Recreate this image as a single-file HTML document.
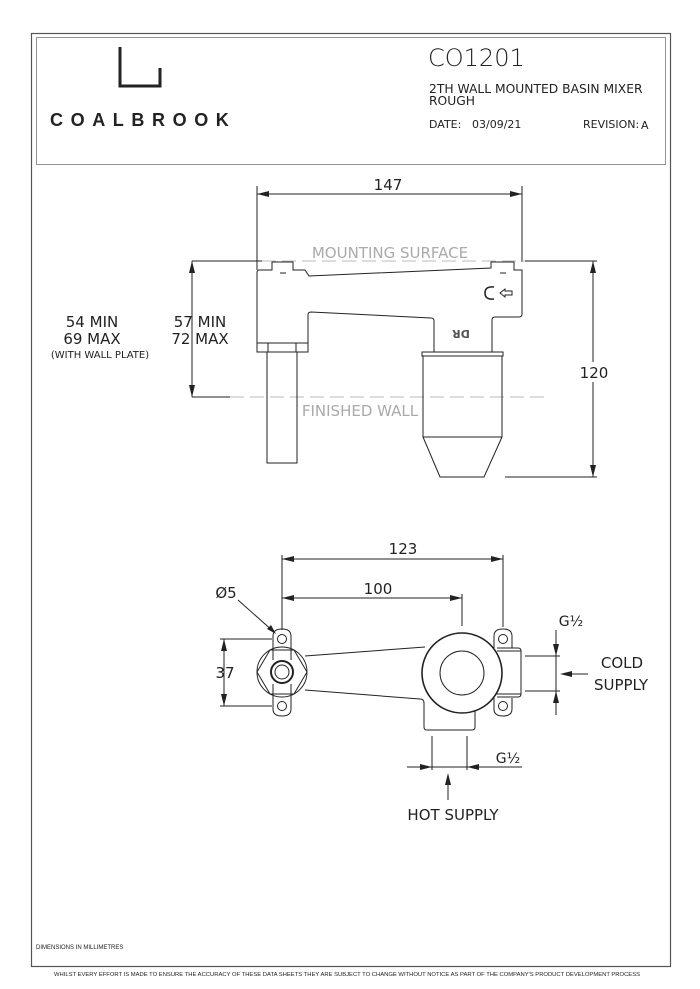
<!DOCTYPE html>
<html><head><meta charset="utf-8"><style>
html,body{margin:0;padding:0;background:#fff}
svg{display:block}
text{font-family:"DejaVu Sans","Liberation Sans",sans-serif;fill:#222}
</style></head><body>
<svg width="700" height="989" viewBox="0 0 700 989" xmlns="http://www.w3.org/2000/svg">
<rect x="31.5" y="33.5" width="639" height="933" fill="none" stroke="#555" stroke-width="1.2"/>
<rect x="36.5" y="37.5" width="629" height="127" fill="none" stroke="#777" stroke-width="0.8"/>
<!-- logo -->
<path d="M120 47 V86 H160 V68" fill="none" stroke="#222" stroke-width="3"/>
<text x="50" y="126" font-size="18" font-weight="bold" letter-spacing="7.6" style="font-family:'Liberation Sans'">COALBROOK</text>
<text x="428" y="66" font-size="24" font-weight="300">CO1201</text>
<text x="429" y="93" font-size="12.3">2TH WALL MOUNTED BASIN MIXER</text>
<text x="429" y="105" font-size="12.3">ROUGH</text>
<text x="429" y="128" font-size="11">DATE:</text>
<text x="472" y="128" font-size="11" fill="#444">03/09/21</text>
<text x="583" y="128" font-size="11">REVISION:</text>
<text x="641" y="129" font-size="11" fill="#444">A</text>

<g fill="none" stroke="#222" stroke-width="1">
<line x1="257" y1="186" x2="257" y2="270"/>
<line x1="522" y1="186" x2="522" y2="262"/>
<line x1="257" y1="194" x2="522" y2="194"/>
<line x1="192" y1="261" x2="262" y2="261"/>
<line x1="525" y1="261" x2="597" y2="261"/>
<line x1="262" y1="261" x2="525" y2="261" stroke="#bbb" stroke-dasharray="14,6"/>
<line x1="192" y1="397" x2="230" y2="397"/>
<line x1="230" y1="397" x2="545" y2="397" stroke="#bbb" stroke-dasharray="14,6"/>
<line x1="192" y1="261" x2="192" y2="397"/>
<line x1="593" y1="261" x2="593" y2="477"/>
<line x1="505" y1="477" x2="597" y2="477"/>
<path d="M259 270 H272 V262 H293 V270 H305 L309 276 L491 268 V262 H514 V270 H522 V314 Q522 317 519 317 H495 Q492 317 492 320 V352 H434 V321 Q434 318 431 318 L311 312 Q308 312 308 315 V343 H257 V273 Q257 270 259 270 Z"/>
<line x1="280" y1="273" x2="286" y2="273"/>
<line x1="500" y1="273" x2="506" y2="273"/>
<rect x="257" y="343" width="51" height="9"/>
<line x1="268" y1="343" x2="268" y2="352"/><line x1="296" y1="343" x2="296" y2="352"/>
<rect x="267" y="352" width="30" height="111"/>
<rect x="422" y="352" width="81" height="4"/>
<path d="M423 356 V437 L440 477 H484 L502 437 V356"/>
<line x1="423" y1="437" x2="502" y2="437"/>
<path d="M494 287 Q485 286 485 293 Q485 300 494 299" stroke-width="1.6"/>
<path d="M500 293 L505 289 V291 H512 V295 H505 V297 Z"/>
</g>
<g fill="#222">
<path d="M257 194 l12 -3 v6z"/><path d="M522 194 l-12 -3 v6z"/>
<path d="M192 261 l-3 12 h6z"/><path d="M192 397 l-3 -12 h6z"/>
<path d="M593 261 l-3 12 h6z"/><path d="M593 477 l-3 -12 h6z"/>
</g>
<text x="388" y="190" font-size="15" text-anchor="middle">147</text>
<text x="390" y="258" font-size="15" text-anchor="middle" style="fill:#aaa">MOUNTING SURFACE</text>
<text x="360" y="416" font-size="15" text-anchor="middle" style="fill:#aaa">FINISHED WALL</text>
<text x="461" y="330" font-size="11" font-weight="bold" text-anchor="middle" transform="rotate(180 461 330)" style="fill:#555">DR</text>
<text x="200" y="327" font-size="15" text-anchor="middle">57 MIN</text>
<text x="200" y="344" font-size="15" text-anchor="middle">72 MAX</text>
<text x="92" y="327" font-size="15" text-anchor="middle">54 MIN</text>
<text x="92" y="344" font-size="15" text-anchor="middle">69 MAX</text>
<text x="100" y="358" font-size="10" text-anchor="middle">(WITH WALL PLATE)</text>
<rect x="578" y="362" width="30" height="20" fill="#fff"/>
<text x="594" y="378" font-size="15" text-anchor="middle">120</text>

<g fill="none" stroke="#222" stroke-width="1">
<line x1="282" y1="555" x2="282" y2="630"/>
<line x1="503" y1="555" x2="503" y2="627"/>
<line x1="462" y1="594" x2="462" y2="626"/>
<line x1="282" y1="559" x2="503" y2="559"/>
<line x1="282" y1="598" x2="462" y2="598"/>
<line x1="220" y1="639" x2="272" y2="639"/>
<line x1="220" y1="706" x2="272" y2="706"/>
<line x1="224" y1="639" x2="224" y2="706"/>
<line x1="238" y1="600" x2="274" y2="632"/>
<path d="M273 660 V636 Q273 629 282 629 Q291 629 291 636 V660"/>
<path d="M273 684 V709 Q273 716 282 716 Q291 716 291 709 V684"/>
<circle cx="282" cy="639" r="4.5"/><circle cx="282" cy="706" r="4.5"/>
<path d="M257 672 L270 650 H294 L307 672 L294 694 H270 Z"/>
<circle cx="282" cy="672" r="25"/>
<circle cx="282" cy="672" r="11" stroke-width="2"/><circle cx="282" cy="672" r="7"/>
<path d="M305 656 L425 647"/>
<path d="M305 690 L420 699 Q424 699 424 703 V727 Q424 730 427 730 H472 Q475 730 475 727 V711"/>
<circle cx="462" cy="673" r="40" stroke-width="1.6"/>
<circle cx="462" cy="673" r="22"/>
<path d="M494 648 V636 Q494 629 503 629 Q512 629 512 636 V648"/>
<path d="M494 698 V709 Q494 716 503 716 Q512 716 512 709 V698"/>
<circle cx="503" cy="639" r="4.5"/><circle cx="503" cy="706" r="4.5"/>
<path d="M497 648 H518 Q521 648 521 651 V694 Q521 697 518 697 H497"/>
<line x1="497" y1="651" x2="521" y2="651"/><line x1="497" y1="694" x2="521" y2="694"/>
<line x1="525" y1="656" x2="560" y2="656"/>
<line x1="525" y1="691" x2="560" y2="691"/>
<line x1="556" y1="630" x2="556" y2="715"/>
<line x1="562" y1="674" x2="588" y2="674"/>
<line x1="432" y1="736" x2="432" y2="770"/>
<line x1="467" y1="736" x2="467" y2="770"/>
<line x1="407" y1="767" x2="522" y2="767"/>
<line x1="448" y1="776" x2="448" y2="800"/>
</g>
<g fill="#222">
<path d="M282 559 l12 -3 v6z"/><path d="M503 559 l-12 -3 v6z"/>
<path d="M282 598 l12 -3 v6z"/><path d="M462 598 l-12 -3 v6z"/>
<path d="M224 639 l-3 12 h6z"/><path d="M224 706 l-3 -12 h6z"/>
<path d="M276 634 l-9 -5 l4 -4z"/>
<path d="M556 656 l-3 -12 h6z"/><path d="M556 691 l-3 12 h6z"/>
<path d="M560 674 l12 -3 v6z"/>
<path d="M432 767 l-12 -3 v6z"/><path d="M467 767 l12 -3 v6z"/>
<path d="M448 773 l-3 12 h6z"/>
</g>
<text x="403" y="554" font-size="15" text-anchor="middle">123</text>
<text x="378" y="594" font-size="15" text-anchor="middle">100</text>
<text x="226" y="598" font-size="15" text-anchor="middle">Ø5</text>
<text x="225" y="678" font-size="15" text-anchor="middle">37</text>
<text x="571" y="626" font-size="14" text-anchor="middle">G½</text>
<text x="622" y="668" font-size="15" text-anchor="middle">COLD</text>
<text x="621" y="690" font-size="15" text-anchor="middle">SUPPLY</text>
<text x="508" y="763" font-size="14" text-anchor="middle">G½</text>
<text x="453" y="820" font-size="15" text-anchor="middle">HOT SUPPLY</text>

<text x="36" y="949" font-size="6" style="font-family:'Liberation Sans'">DIMENSIONS IN  MILLIMETRES</text>
<text x="347" y="976" font-size="5.9" text-anchor="middle" textLength="586" lengthAdjust="spacingAndGlyphs" style="font-family:'Liberation Sans'">WHILST EVERY EFFORT IS MADE TO ENSURE THE ACCURACY OF THESE DATA SHEETS THEY ARE SUBJECT TO CHANGE WITHOUT NOTICE AS PART OF THE COMPANY'S PRODUCT DEVELOPMENT PROCESS</text>
</svg>
</body></html>
